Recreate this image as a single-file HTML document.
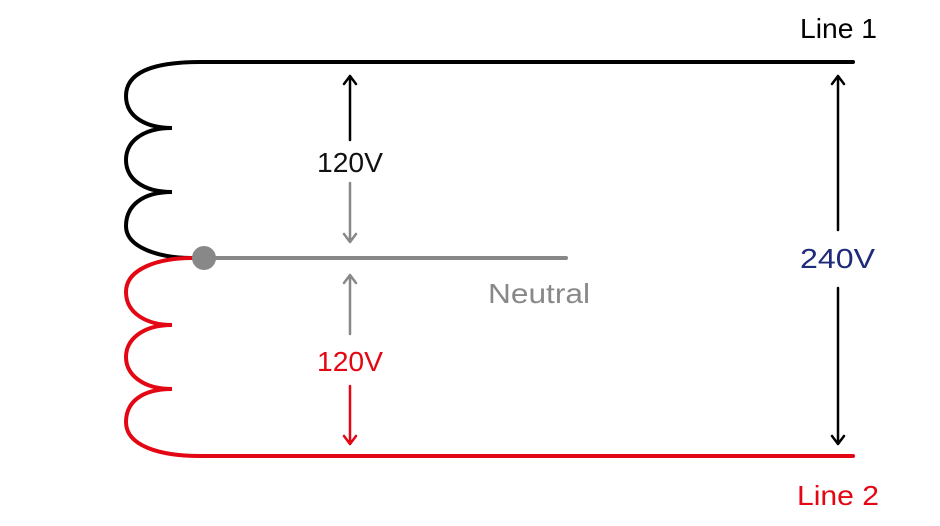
<!DOCTYPE html>
<html><head><meta charset="utf-8"><style>
html,body{margin:0;padding:0;background:#fff}
svg{display:block}
text{font-family:"Liberation Sans",sans-serif;font-size:28px}
</style></head><body>
<svg width="940" height="526" viewBox="0 0 940 526">
<g fill="none" stroke-width="4" stroke-linecap="round">
<path d="M853,62 L200,62 C150,62 126,74 126,96 C126,118 148,128 172,128 C142,128 126,142 126,160 C126,178 142,192 172,192 C142,192 126,206 126,226 C126,248 160,258 192,258" stroke="#000"/>
<path d="M192,258 C160,258 126,268 126,292 C126,314 148,325 172,325 C142,325 126,340 126,357 C126,374 142,389 172,389 C142,389 126,402 126,422 C126,446 160,456 200,456 L853,456" stroke="#e30613"/>
<line x1="204" y1="258" x2="566" y2="258" stroke="#888"/>
</g>
<circle cx="204" cy="258" r="12" fill="#888"/>
<g stroke-width="2.5" fill="none" stroke-linecap="round" stroke-linejoin="round">
<path d="M350,140 L350,76 M344,84 L350,76 L356,84" stroke="#000"/>
<path d="M350,183 L350,242 M344,234 L350,242 L356,234" stroke="#888"/>
<path d="M350,334 L350,275 M344,283 L350,275 L356,283" stroke="#888"/>
<path d="M350,386 L350,444 M344,436 L350,444 L356,436" stroke="#e30613"/>
<path d="M838,230 L838,76 M832,84 L838,76 L844,84" stroke="#000"/>
<path d="M838,288 L838,444 M832,436 L838,444 L844,436" stroke="#000"/>
</g>
<text x="317" y="172" fill="#111" textLength="66" lengthAdjust="spacingAndGlyphs">120V</text>
<text x="317" y="371" fill="#e30613" textLength="66" lengthAdjust="spacingAndGlyphs">120V</text>
<text x="800" y="268" fill="#1e2a7a" textLength="75" lengthAdjust="spacingAndGlyphs">240V</text>
<text x="488" y="303" fill="#888" textLength="102" lengthAdjust="spacingAndGlyphs">Neutral</text>
<text x="800" y="38" fill="#000" textLength="77" lengthAdjust="spacingAndGlyphs">Line 1</text>
<text x="797" y="505" fill="#e30613" textLength="82" lengthAdjust="spacingAndGlyphs">Line 2</text>
</svg>
</body></html>
